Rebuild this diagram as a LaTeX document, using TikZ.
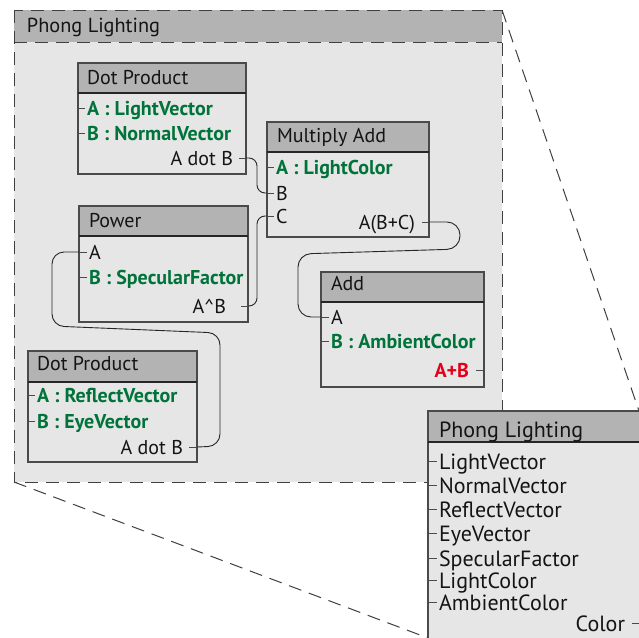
\documentclass[tikz,border=0pt]{standalone}
\usepackage{fontspec}
\setmainfont{PT Sans}
\definecolor{hdr}{HTML}{B3B3B3}
\definecolor{bodyc}{HTML}{E6E6E6}
\definecolor{grn}{HTML}{00733A}
\definecolor{rd}{HTML}{E2001A}
\definecolor{edge}{HTML}{4A4A4A}
\definecolor{hsep}{HTML}{262626}
\definecolor{txt}{HTML}{141414}
\newcommand\myfs{\fontsize{20}{22}\selectfont}
\newcommand\mybigfs{\fontsize{22}{24}\selectfont}
\begin{document}
\begin{tikzpicture}[x=1pt,y=-1pt,
  bodybox/.style={draw=edge,line width=1.1pt,fill=bodyc,inner sep=0,outer sep=0,anchor=north west},
  headbox/.style={draw=edge,line width=1.1pt,fill=hdr,inner sep=0,outer sep=0,anchor=north west},
  sepline/.style={draw=hsep,line width=2pt},
  lbl/.style={anchor=base west,inner sep=0,outer sep=0,text=txt,font=\myfs},
  rlbl/.style={lbl,anchor=base east},
  glbl/.style={lbl,text=grn,font=\myfs\bfseries},
  redlbl/.style={rlbl,text=rd,font=\myfs\bfseries},
  biglbl/.style={lbl,font=\mybigfs},
  stub/.style={draw=edge,line width=0.9pt},
  wire/.style={draw=black!85,line width=0.9pt,rounded corners=10pt},
  dashline/.style={draw=black!75,line width=1pt,dash pattern=on 13pt off 8pt}]
\clip (0,0) rectangle (639,637);
\fill[white] (0,0) rectangle (639,637);
% outer group
\node[fill=bodyc,inner sep=0,outer sep=0,anchor=north west,minimum width=488,minimum height=472] (outer) at (14,10) {};
\node[fill=hdr,inner sep=0,outer sep=0,anchor=north west,minimum width=488,minimum height=32] (outerh) at (14,10) {};
\draw[dashline] (outer.north west) rectangle (outer.south east);
\draw[dashline] (outerh.south west) -- (outerh.south east);
\node[lbl,font=\fontsize{20.3}{22}\selectfont] (outert) at (27,32) {Phong Lighting};
% zoom box coordinates
\coordinate (plNE) at (639,411);
\coordinate (plSW) at (428,638);
\draw[dashline] (outer.north east) -- (plNE);
\draw[dashline] (outer.south west) -- (plSW);

% Dot Product 1
\node[bodybox,minimum width=168,minimum height=111] (dp1) at (78,63) {};
\node[headbox,minimum width=168,minimum height=30] (dp1h) at (78,63) {};
\draw[sepline] (dp1h.south west) -- (dp1h.south east);
\node[lbl] (dp1t) at (87,84) {Dot Product};
\node[glbl] (dp1a) at (87,115) {A : LightVector};
\node[glbl] (dp1b) at (87,140) {B : NormalVector};
\node[rlbl] (dp1r) at (233,165) {A dot B};
\draw[stub] (78,108) -- (85,108);
\draw[stub] (78,133) -- (85,133);
\draw[stub] (239,158) -- (246,158);
\coordinate (dp1o) at (246,158);

% Multiply Add
\node[bodybox,minimum width=162,minimum height=115] (ma) at (267,122) {};
\node[headbox,minimum width=162,minimum height=30] (mah) at (267,122) {};
\draw[sepline] (mah.south west) -- (mah.south east);
\node[lbl] (mat) at (277,142) {Multiply Add};
\node[glbl] (maa) at (276,174) {A : LightColor};
\node[lbl] (mab) at (276,200) {B};
\node[lbl] (mac) at (276,223) {C};
\node[rlbl] (mar) at (415,229) {A(B+C)};
\draw[stub] (267,167) -- (274,167);
\coordinate (maB) at (267,193);
\coordinate (maC) at (267,216);
\draw[stub] (maB) -- (274,193);
\draw[stub] (maC) -- (274,216);
\draw[stub] (422,222) -- (429,222);
\coordinate (mao) at (429,222);

% Power
\node[bodybox,minimum width=169,minimum height=116] (pw) at (79,206) {};
\node[headbox,minimum width=169,minimum height=30] (pwh) at (79,206) {};
\draw[sepline] (pwh.south west) -- (pwh.south east);
\node[lbl] (pwt) at (89,227) {Power};
\node[lbl] (pwa) at (89,259) {A};
\node[glbl] (pwb) at (89,284) {B : SpecularFactor};
\node[rlbl] (pwr) at (226,313) {A\textasciicircum B};
\coordinate (pwA) at (79,252);
\draw[stub] (pwA) -- (87,252);
\draw[stub] (79,277) -- (87,277);
\draw[stub] (241,306) -- (248,306);
\coordinate (pwo) at (248,306);

% Dot Product 2
\node[bodybox,minimum width=169,minimum height=111] (dp2) at (28,351) {};
\node[headbox,minimum width=169,minimum height=31] (dp2h) at (28,351) {};
\draw[sepline] (dp2h.south west) -- (dp2h.south east);
\node[lbl] (dp2t) at (37,370) {Dot Product};
\node[glbl] (dp2a) at (37,402) {A : ReflectVector};
\node[glbl] (dp2b) at (37,428) {B : EyeVector};
\node[rlbl] (dp2r) at (183,454) {A dot B};
\draw[stub] (28,395) -- (35,395);
\draw[stub] (28,421) -- (35,421);
\draw[stub] (189,447) -- (197,447);
\coordinate (dp2o) at (197,447);

% Add
\node[bodybox,minimum width=163,minimum height=115] (add) at (321,272) {};
\node[headbox,minimum width=163,minimum height=30] (addh) at (321,272) {};
\draw[sepline] (addh.south west) -- (addh.south east);
\node[lbl] (addt) at (331,290) {Add};
\node[lbl] (adda) at (331,324) {A};
\node[glbl] (addb) at (331,348) {B : AmbientColor};
\node[redlbl] (addr) at (469,377) {A+B};
\coordinate (addA) at (321,317);
\draw[stub] (addA) -- (329,317);
\draw[stub] (321,341) -- (329,341);
\draw[stub] (476,370) -- (484,370);

% wires
\draw[wire,rounded corners=8pt] (dp1o) -- (257,158) -- (257,193) -- (maB);
\draw[wire,rounded corners=8pt] (pwo) -- (257,306) -- (257,216) -- (maC);
\draw[wire,rounded corners=13pt] (mao) -- (460,222) -- (460,249) -- (298,254) -- (298,317) -- (addA);
\draw[wire,rounded corners=12pt] (dp2o) -- (220,446) -- (220,333) -- (52,326) -- (52,252) -- (pwA);

% Phong Lighting node
\node[bodybox,minimum width=220,minimum height=240] (pl) at (428,411) {};
\node[headbox,minimum width=220,minimum height=31] (plh) at (428,411) {};
\draw[sepline] (plh.south west) -- (plh.south east);
\node[biglbl] (plt) at (439,437) {Phong Lighting};
\node[biglbl] (pl1) at (439,469) {LightVector};
\node[biglbl] (pl2) at (439,493) {NormalVector};
\node[biglbl] (pl3) at (439,517) {ReflectVector};
\node[biglbl] (pl4) at (439,541) {EyeVector};
\node[biglbl] (pl5) at (439,566) {SpecularFactor};
\node[biglbl] (pl6) at (439,588) {LightColor};
\node[biglbl] (pl7) at (439,610) {AmbientColor};
\node[rlbl,font=\mybigfs] (pl8) at (625,631) {Color};
\foreach \yy in {461,485,509,533,558,580,602} {\draw[stub] (428,\yy) -- (437,\yy);}
\draw[stub] (632,623) -- (639,623);
\end{tikzpicture}
\end{document}
